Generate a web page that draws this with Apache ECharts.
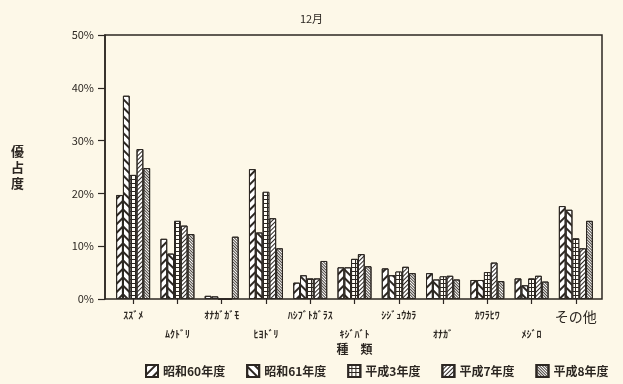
<!DOCTYPE html>
<html>
<head>
<meta charset="utf-8">
<script src="https://cdn.jsdelivr.net/npm/echarts@6/dist/echarts.min.js"></script>
<style>
  html, body { margin: 0; padding: 0; background: #fdf8e8; }
  #chart { width: 623px; height: 384px; }
</style>
</head>
<body>
<div id="chart"></div>
<script>
// Species observed in December
const categories = ['ｽｽﾞﾒ', 'ﾑｸﾄﾞﾘ', 'ｵﾅｶﾞｶﾞﾓ', 'ﾋﾖﾄﾞﾘ', 'ﾊｼﾌﾞﾄｶﾞﾗｽ', 'ｷｼﾞﾊﾞﾄ', 'ｼｼﾞｭｳｶﾗ', 'ｵﾅｶﾞ', 'ｶﾜﾗﾋﾜ', 'ﾒｼﾞﾛ', 'その他'];

// Dominance (%) per survey year
const seriesNames = ['昭和60年度', '昭和61年度', '平成3年度', '平成7年度', '平成8年度'];
const s60 = [19.7, 11.4, 0.6, 24.6, 3.1, 6.0, 5.8, 4.9, 3.6, 3.9, 17.6];
const s61 = [38.5, 8.6, 0.5, 12.6, 4.5, 6.0, 4.5, 3.7, 3.6, 2.6, 16.9];
const h3  = [23.5, 14.8, 0, 20.3, 3.9, 7.6, 5.2, 4.3, 5.1, 3.9, 11.5];
const h7  = [28.4, 13.9, 0, 15.3, 3.9, 8.5, 6.1, 4.4, 6.9, 4.4, 9.6];
const h8  = [24.8, 12.3, 11.8, 9.6, 7.2, 6.2, 4.9, 3.7, 3.4, 3.3, 14.8];

const yTicks = [0, 10, 20, 30, 40, 50];

const ink = '#2c2722';
const font = '"Noto Sans CJK JP", "Noto Sans", sans-serif';

// hatch patterns, one per survey year
const decals = [
  { symbol: 'rect', symbolSize: 1, dashArrayX: [1, 0], dashArrayY: [1.1, 3.2], rotation: -Math.PI / 4, color: ink },
  { symbol: 'rect', symbolSize: 1, dashArrayX: [1, 0], dashArrayY: [1.1, 3.2], rotation: Math.PI / 4, color: ink },
  { symbol: 'rect', symbolSize: 1, dashArrayX: [[2.4, 1]], dashArrayY: [2.4, 1], color: '#fffdf6', backgroundColor: ink },
  { symbol: 'rect', symbolSize: 1, dashArrayX: [1, 0], dashArrayY: [0.9, 1.5], rotation: -Math.PI / 4, color: ink },
  { symbol: 'rect', symbolSize: 1, dashArrayX: [1, 0], dashArrayY: [1, 1], rotation: Math.PI / 4, color: '#4a443d' }
];

const values = [s60, s61, h3, h7, h8];

const chart = echarts.init(document.getElementById('chart'), null, { renderer: 'canvas' });

const option = {
  backgroundColor: '#fdf8e8',
  animation: false,
  textStyle: { fontFamily: font, color: ink },
  title: {
    text: '12月',
    left: 'center',
    top: 8,
    textStyle: { fontSize: 11, fontWeight: 'normal', color: ink, fontFamily: font }
  },
  legend: {
    left: 140,
    top: 359,
    itemWidth: 12,
    itemHeight: 12,
    itemGap: 21,
    icon: 'rect',
    textStyle: { fontSize: 12, fontWeight: 'bold', color: ink, fontFamily: font },
    data: seriesNames
  },
  grid: [
    // frame with the value axis
    { left: 105, right: 21, top: 35, bottom: 85, show: true, borderColor: ink, borderWidth: 1.5, backgroundColor: 'transparent' },
    // bar area
    { left: 111, right: 25, top: 35, bottom: 85 }
  ],
  xAxis: [
    { gridIndex: 0, type: 'value', show: false, min: 0, max: 1 },
    {
      gridIndex: 1,
      type: 'category',
      data: categories,
      axisLine: { show: false },
      axisTick: { show: true, alignWithLabel: true, length: 5, lineStyle: { color: ink, width: 1.2 } },
      axisLabel: {
        interval: 0,
        margin: 11,
        formatter: function (v, i) {
          if (v === 'その他') return '{c|' + v + '}';
          return (i % 2 === 0 ? '{a|' : '{b|') + v + '}';
        },
        rich: {
          a: { fontSize: 10, color: ink, fontFamily: font, fontWeight: 'bold' },
          b: { fontSize: 10, color: ink, fontFamily: font, fontWeight: 'bold', padding: [19, 0, 0, 0] },
          c: { fontSize: 14, color: ink, fontFamily: font, padding: [0, 0, 10, 0] }
        }
      },
      name: '種　類',
      nameLocation: 'middle',
      nameGap: 42,
      nameTextStyle: { fontSize: 12, fontWeight: 'bold', color: ink, fontFamily: font }
    }
  ],
  yAxis: [
    {
      gridIndex: 0,
      type: 'value',
      min: yTicks[0],
      max: yTicks[yTicks.length - 1],
      interval: 10,
      axisLine: { show: true, lineStyle: { color: ink, width: 1.5 } },
      axisTick: { show: true, inside: false, length: 7, lineStyle: { color: ink, width: 1.2 } },
      splitLine: { show: false },
      axisLabel: { formatter: '{value}%', fontSize: 11, margin: 11, color: ink, fontFamily: font },
      name: '優\n占\n度',
      nameLocation: 'middle',
      nameRotate: 0,
      nameGap: 81,
      nameTextStyle: { fontSize: 13, fontWeight: 'bold', color: ink, fontFamily: font, lineHeight: 16 }
    },
    { gridIndex: 1, type: 'value', min: 0, max: 50, show: false }
  ],
  series: seriesNames.map(function (name, k) {
    return {
      name: name,
      type: 'bar',
      xAxisIndex: 1,
      yAxisIndex: 1,
      data: values[k],
      barWidth: 6.8,
      barGap: '0%',
      itemStyle: {
        color: '#ffffff',
        borderColor: ink,
        borderWidth: 1,
        decal: decals[k]
      }
    };
  })
};

chart.setOption(option);
</script>
</body>
</html>
